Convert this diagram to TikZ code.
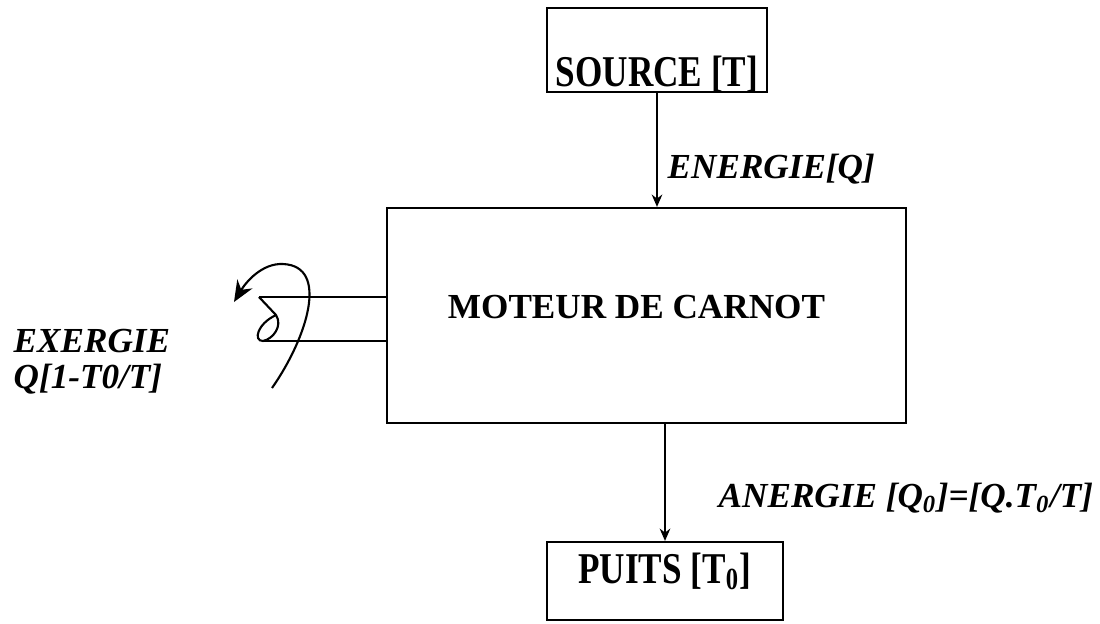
\documentclass[tikz,border=0pt]{standalone}
\usepackage{fontspec}
\setmainfont{Liberation Serif}
\newfontfamily\tallfont[FakeStretch=0.8]{Liberation Serif}
\usetikzlibrary{arrows.meta,calc}

\tikzset{
  box/.style={draw, line width=0.6pt, inner sep=0pt},
  arr/.style={line width=0.6pt, -{Stealth[length=3.5pt,width=3pt]}},
  lbl/.style={font=\fontsize{10}{12}\selectfont\bfseries\itshape, inner sep=0pt, anchor=base west},
  bigtxt/.style={font=\fontsize{12.5}{14}\selectfont\tallfont\bfseries}
}

\begin{document}
\begin{tikzpicture}[x=0.01cm,y=-0.01cm]

\useasboundingbox (0,0) rectangle (1100,623);

\node[box, bigtxt, minimum width=2.2cm, text height=0.78cm, text depth=0.06cm]
  (source) at (657,50) {SOURCE [T]};

\node[box, font=\fontsize{10}{12}\selectfont\bfseries, minimum width=5.19cm,
  text height=1.10cm, text depth=1.05cm]
  (main) at (646.5,315.5) {\hspace*{-0.2cm}MOTEUR DE CARNOT};

\node[box, bigtxt, minimum width=2.36cm, text height=0.41cm, text depth=0.37cm]
  (puits) at (665,581) {PUITS [T\textsubscript{0}]};

\draw[arr] (source.south) -- (source.south |- main.north);
\draw[arr] (puits.north |- main.south) -- (puits.north);

\coordinate (shaftA) at (259,297);
\coordinate (shaftB) at (263,341);

\draw[line width=0.6pt] (shaftA) -- (shaftA -| main.west);
\draw[line width=0.6pt] (shaftB) -- (shaftB -| main.west);
\draw[line width=0.6pt] (shaftA) -- (276,315)
  .. controls (283,326) and (273,339) .. (shaftB)
  .. controls (253,341) and (257,324) .. (276,315);

\draw[line width=0.6pt, -{Stealth[length=6pt,width=5pt]}]
  (272,388) .. controls (307,338) and (330,266) .. (283,264)
  .. controls (262,263) and (246,282) .. (234,302);

\node[lbl] (energie) at (667,178) {ENERGIE[Q]};
\node[lbl] (anergie) at (718,507) {ANERGIE [Q\textsubscript{0}]=[Q.T\textsubscript{0}/T]};
\node[lbl] (exergie) at (13,352) {EXERGIE};
\node[lbl] (exergieq) at (13,388) {Q[1-T0/T]};

\end{tikzpicture}
\end{document}
